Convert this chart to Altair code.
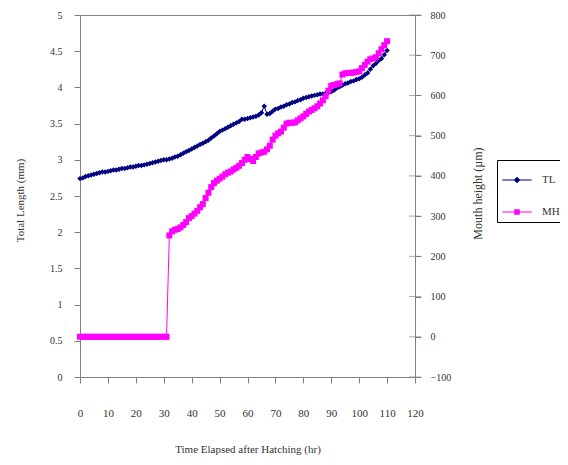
import altair as alt
import pandas as pd

# ---- data ----
hours = list(range(0, 111))

tl_mm = [
    2.74, 2.75, 2.77, 2.78, 2.79, 2.80, 2.81, 2.82, 2.83, 2.83,
    2.84, 2.85, 2.86, 2.86, 2.87, 2.88, 2.88, 2.89, 2.90, 2.90,
    2.91, 2.92, 2.92, 2.93, 2.94, 2.95, 2.96, 2.97, 2.98, 2.99,
    3.00, 3.00, 3.01, 3.02, 3.04, 3.05, 3.07, 3.09, 3.11, 3.13,
    3.15, 3.17, 3.19, 3.21, 3.23, 3.25, 3.27, 3.30, 3.33, 3.36,
    3.39, 3.41, 3.43, 3.45, 3.47, 3.49, 3.51, 3.53, 3.56, 3.56,
    3.57, 3.58, 3.59, 3.60, 3.62, 3.65, 3.74, 3.63, 3.64, 3.67,
    3.70, 3.71, 3.73, 3.74, 3.76, 3.77, 3.79, 3.80, 3.82, 3.83,
    3.85, 3.86, 3.87, 3.88, 3.89, 3.90, 3.91, 3.91, 3.92, 3.93,
    3.94, 3.96, 3.99, 4.01, 4.03, 4.05, 4.06, 4.08, 4.09, 4.11,
    4.12, 4.14, 4.17, 4.20, 4.25, 4.30, 4.33, 4.37, 4.40, 4.45, 4.51,
]

mh_um = [
    0, 0, 0, 0, 0, 0, 0, 0, 0, 0,
    0, 0, 0, 0, 0, 0, 0, 0, 0, 0,
    0, 0, 0, 0, 0, 0, 0, 0, 0, 0,
    0, 0,
    252, 262, 266, 268, 272, 278, 285, 295, 300, 306,
    313, 322, 330, 345, 358, 372, 382, 388, 393, 398,
    404, 408, 411, 416, 420, 425, 432, 440, 447, 442,
    437, 447, 456, 458, 460, 466, 475, 490, 500, 506,
    510, 520, 530, 532, 532, 533, 538, 543, 548, 554,
    560, 564, 568, 573, 580, 588, 598, 612, 624, 626,
    628, 630, 652, 655, 656, 656, 657, 658, 660, 668,
    676, 684, 690, 692, 695, 705, 715, 725, 735,
]

x_ticks = [0, 10, 20, 30, 40, 50, 60, 70, 80, 90, 100, 110, 120]
tl_ticks = [0, 0.5, 1, 1.5, 2, 2.5, 3, 3.5, 4, 4.5, 5]
mh_ticks = [-100, 0, 100, 200, 300, 400, 500, 600, 700, 800]
series = ["TL", "MH"]
colors = ["#000080", "#FF00FF"]

# legend symbols: a thin line with the marker in the middle
legend_paths = [
    "M-1.05,-0.036H1.05V0.036H-1.05Z M0,-0.24L0.24,0L0,0.24L-0.24,0Z",
    "M-1.05,-0.036H1.05V0.036H-1.05Z M-0.2,-0.2H0.2V0.2H-0.2Z",
]

FONT = "Liberation Serif"
AXIS_COLOR = "#808080"
TEXT_COLOR = "#333333"

df = pd.DataFrame({"hours": hours, "TL": tl_mm, "MH": mh_um})
tick_df = pd.DataFrame({"MH": mh_ticks})
legend_df = pd.DataFrame({"series": series})

x_axis = alt.Axis(values=x_ticks, tickSize=6, labelPadding=24, labelFlush=False,
                  title="Time Elapsed after Hatching (hr)", titleY=66)
x_scale = alt.Scale(domain=[0, 120], nice=False)
x_enc = alt.X("hours:Q", scale=x_scale, axis=x_axis)

y_tl = alt.Y("TL:Q", scale=alt.Scale(domain=[0, 5], nice=False, zero=False),
             axis=alt.Axis(values=tl_ticks, format=".1~f", tickSize=6, labelPadding=12,
                           labelFontSize=10, labelFlush=False,
                           title="Total Length (mm)", titleX=-55, titleY=185))
y_mh = alt.Y("MH:Q", scale=alt.Scale(domain=[-100, 800], nice=False, zero=False),
             axis=alt.Axis(values=mh_ticks, orient="right", tickSize=6, labelPadding=9,
                           labelFontSize=10, labelFlush=False,
                           title="Mouth height (µm)", titleAngle=270, titleX=62, titleY=178,
                           titleBaseline="middle", titleFontSize=12))

tl_line = alt.Chart(df).mark_line(color=colors[0], strokeWidth=1).encode(x=x_enc, y=y_tl)
tl_pts = alt.Chart(df).mark_point(shape="diamond", filled=True, size=30, color=colors[0],
                                  opacity=1).encode(x=x_enc, y=y_tl)
left = alt.layer(tl_line, tl_pts)

mh_line = alt.Chart(df).mark_line(color=colors[1], strokeWidth=1).encode(x=x_enc, y=y_mh)
mh_pts = alt.Chart(df).mark_point(shape="square", filled=True, size=36, color=colors[1],
                                  opacity=1).encode(x=x_enc, y=y_mh)
mh_cross = alt.Chart(tick_df).mark_tick(orient="horizontal", size=12, thickness=1,
                                        color=AXIS_COLOR).encode(
    x=alt.XDatum(120, scale=x_scale, axis=x_axis), y=y_mh)
right = alt.layer(mh_line, mh_pts, mh_cross)

legend_def = alt.Legend(title=None, orient="none", legendX=417, legendY=145,
                        strokeColor="black", fillColor="white", padding=5, rowPadding=12,
                        symbolSize=784, labelOffset=10, labelFont=FONT, labelFontSize=11,
                        labelColor=TEXT_COLOR)
legend_layer = alt.Chart(legend_df).transform_filter("false").mark_point(
    filled=True, opacity=1).encode(
    color=alt.Color("series:N", scale=alt.Scale(domain=series, range=colors), legend=legend_def),
    shape=alt.Shape("series:N", scale=alt.Scale(domain=series, range=legend_paths), legend=legend_def),
)

chart = alt.layer(left, right, legend_layer).resolve_scale(y="independent").properties(
    width=335, height=362,
    padding={"left": 72, "top": 7, "right": 145, "bottom": 80},
    autosize=alt.AutoSizeParams(type="none"),
    background="white",
).configure_view(stroke=AXIS_COLOR, strokeWidth=1).configure_axis(
    grid=False, labelFont=FONT, labelFontSize=11, labelColor=TEXT_COLOR,
    titleFont=FONT, titleFontSize=11, titleFontWeight="normal", titleColor=TEXT_COLOR,
    domainColor=AXIS_COLOR, tickColor=AXIS_COLOR,
)

chart.save("out.html", embed_options={"renderer": "svg", "actions": False})
